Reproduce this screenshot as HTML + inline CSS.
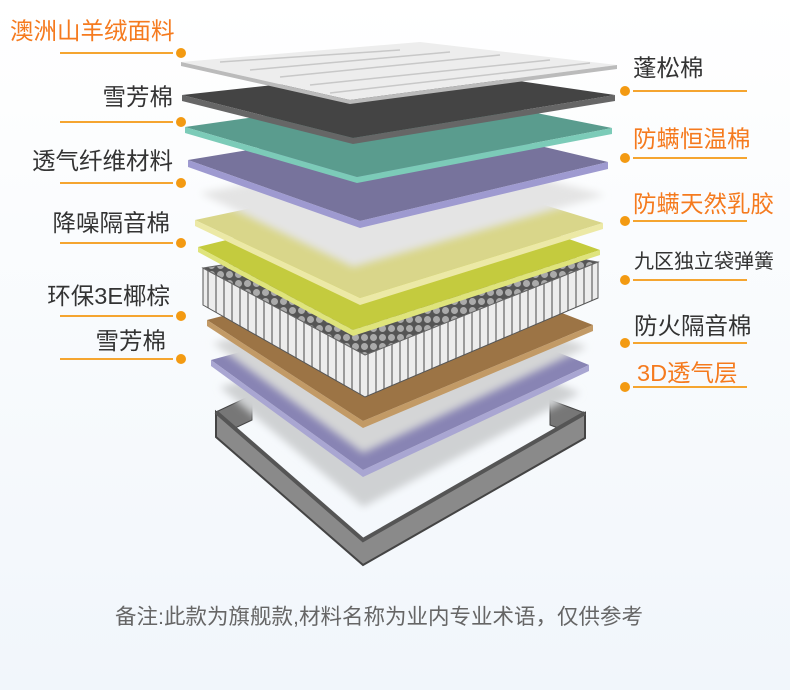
<!DOCTYPE html>
<html><head><meta charset="utf-8"><style>
body{margin:0;width:790px;height:690px;overflow:hidden;background:linear-gradient(#ffffff,#f1f6fb);font-family:"Liberation Sans","Noto Sans CJK SC",sans-serif;position:relative}
.t{position:absolute;font-size:23.5px;line-height:24px;color:#333;white-space:nowrap}
.o{color:#f57a1e}
.l{position:absolute;height:2px;background:#f5a530}
.d{position:absolute;width:10px;height:10px;border-radius:50%;background:#f39a12}
svg{position:absolute;left:0;top:0}
</style></head><body>
<svg width="790" height="690">
<defs>
<filter id="b"><feGaussianBlur stdDeviation="4"/></filter>
<pattern id="sp" width="8" height="40" patternUnits="userSpaceOnUse"><rect width="8" height="40" fill="#9a9a9a"/><rect x="1" width="6" height="40" fill="#ececec"/></pattern>
<pattern id="cl" width="9" height="9" patternUnits="userSpaceOnUse"><rect width="9" height="9" fill="#555"/><circle cx="4.5" cy="4.5" r="3.5" fill="#aaa"/></pattern>
</defs>
<!-- frame -->
<polygon points="216,412 252,395 252,420 216,437" fill="#777" stroke="#444"/>
<polygon points="585,413 550,400 550,425 585,438" fill="#777" stroke="#444"/>
<polygon points="216,412 363,540 585,413 585,438 363,565 216,437" fill="#8a8a8a" stroke="#444" stroke-width="2"/>
<path d="M216,412 L363,540 L585,413" fill="none" stroke="#555" stroke-width="4"/>
<!-- layer 12 blur -->
<polygon points="220,387 430,330 580,393 363,507" fill="#cfd1d3" filter="url(#b)"/>
<!-- layer 11 purple -->
<polygon points="211,360 430,300 589,365 363,470 " fill="#8884b4"/><polygon points="211,360 363,470 589,365 589,371 363,477 211,366" fill="#a9a6d2"/>
<!-- layer 10 blur -->
<polygon points="213,343 430,290 587,347 363,453" fill="#d4d5d6" filter="url(#b)"/>
<!-- layer 9 brown -->
<polygon points="207,320 430,262 593,325 363,421" fill="#9c7445"/><polygon points="207,320 363,421 593,325 593,331 363,428 207,326" fill="#c29a66"/>
<!-- spring -->
<polygon points="203,268 203,305 365,397 598,298 598,262 365,355" fill="url(#sp)" stroke="#555"/>
<polygon points="203,268 430,232 598,262 365,355" fill="url(#cl)" stroke="#666"/>
<!-- layer 7 yellow-green -->
<polygon points="198,247 430,190 600,250 353,330" fill="#c4cb3e"/><polygon points="198,247 353,330 600,250 600,255 353,336 198,252" fill="#dfe47c"/>
<!-- layer 6 pale yellow -->
<polygon points="195,220 430,170 603,223 360,298" fill="#d9d68a"/><polygon points="195,220 360,298 603,223 603,229 360,305 195,226" fill="#ece9a6"/>
<!-- layer 5 white blur -->
<polygon points="200,193 430,150 605,195 353,267" fill="#e4e4e4" filter="url(#b)"/>
<!-- layer 4 purple -->
<polygon points="188,160 430,120 608,162 360,221" fill="#77739c"/><polygon points="188,160 360,221 608,162 608,169 360,228 188,167" fill="#9e9ad0"/>
<!-- layer 3 teal -->
<polygon points="185,127 430,92 612,128 357,177" fill="#5a9c8e"/><polygon points="185,127 357,177 612,128 612,134 357,183 185,133" fill="#7ccbb8"/>
<!-- layer 2 dark -->
<polygon points="182,95 430,68 615,95 353,138" fill="#444"/><polygon points="182,95 353,138 615,95 615,101 353,144 182,101" fill="#666"/>
<!-- layer 1 quilt -->
<polygon points="181,62 420,42 617,65 350,100" fill="#ededed"/><polygon points="181,62 350,100 617,65 617,69 350,104 181,66" fill="#bbb"/>
<g stroke="#c8c8c8" stroke-width="1.5" fill="none">
<path d="M220,62 L400,50 M250,70 L450,52 M280,77 L500,55 M310,85 L550,60 M330,93 L590,63"/>
</g>
</svg>

<div class="t o" style="left:10px;top:19px">澳洲山羊绒面料</div>
<div class="l" style="left:60px;top:52px;width:113px"></div><div class="d" style="left:176px;top:48px"></div>
<div class="t" style="right:617px;top:85px">雪芳棉</div>
<div class="l" style="left:60px;top:121px;width:113px"></div><div class="d" style="left:176px;top:117px"></div>
<div class="t" style="right:617px;top:149px">透气纤维材料</div>
<div class="l" style="left:60px;top:182px;width:113px"></div><div class="d" style="left:176px;top:178px"></div>
<div class="t" style="right:620px;top:211px">降噪隔音棉</div>
<div class="l" style="left:60px;top:242px;width:113px"></div><div class="d" style="left:176px;top:238px"></div>
<div class="t" style="right:620px;top:284px">环保3E椰棕</div>
<div class="l" style="left:60px;top:315px;width:113px"></div><div class="d" style="left:176px;top:311px"></div>
<div class="t" style="right:624px;top:329px">雪芳棉</div>
<div class="l" style="left:60px;top:358px;width:113px"></div><div class="d" style="left:176px;top:354px"></div>

<div class="t" style="left:633px;top:56px">蓬松棉</div>
<div class="l" style="left:633px;top:90px;width:114px"></div><div class="d" style="left:620px;top:86px"></div>
<div class="t o" style="left:633px;top:127px">防螨恒温棉</div>
<div class="l" style="left:633px;top:157px;width:114px"></div><div class="d" style="left:620px;top:153px"></div>
<div class="t o" style="left:633px;top:192px">防螨天然乳胶</div>
<div class="l" style="left:633px;top:220px;width:114px"></div><div class="d" style="left:620px;top:216px"></div>
<div class="t" style="left:634px;top:250px;font-size:20px">九区独立袋弹簧</div>
<div class="l" style="left:633px;top:279px;width:114px"></div><div class="d" style="left:620px;top:275px"></div>
<div class="t" style="left:634px;top:314px">防火隔音棉</div>
<div class="l" style="left:633px;top:342px;width:114px"></div><div class="d" style="left:620px;top:338px"></div>
<div class="t o" style="left:637px;top:361px">3D透气层</div>
<div class="l" style="left:633px;top:386px;width:114px"></div><div class="d" style="left:620px;top:382px"></div>

<div class="t" style="left:115px;top:605px;font-size:21.5px;color:#666">备注:此款为旗舰款,材料名称为业内专业术语，仅供参考</div>
</body></html>
